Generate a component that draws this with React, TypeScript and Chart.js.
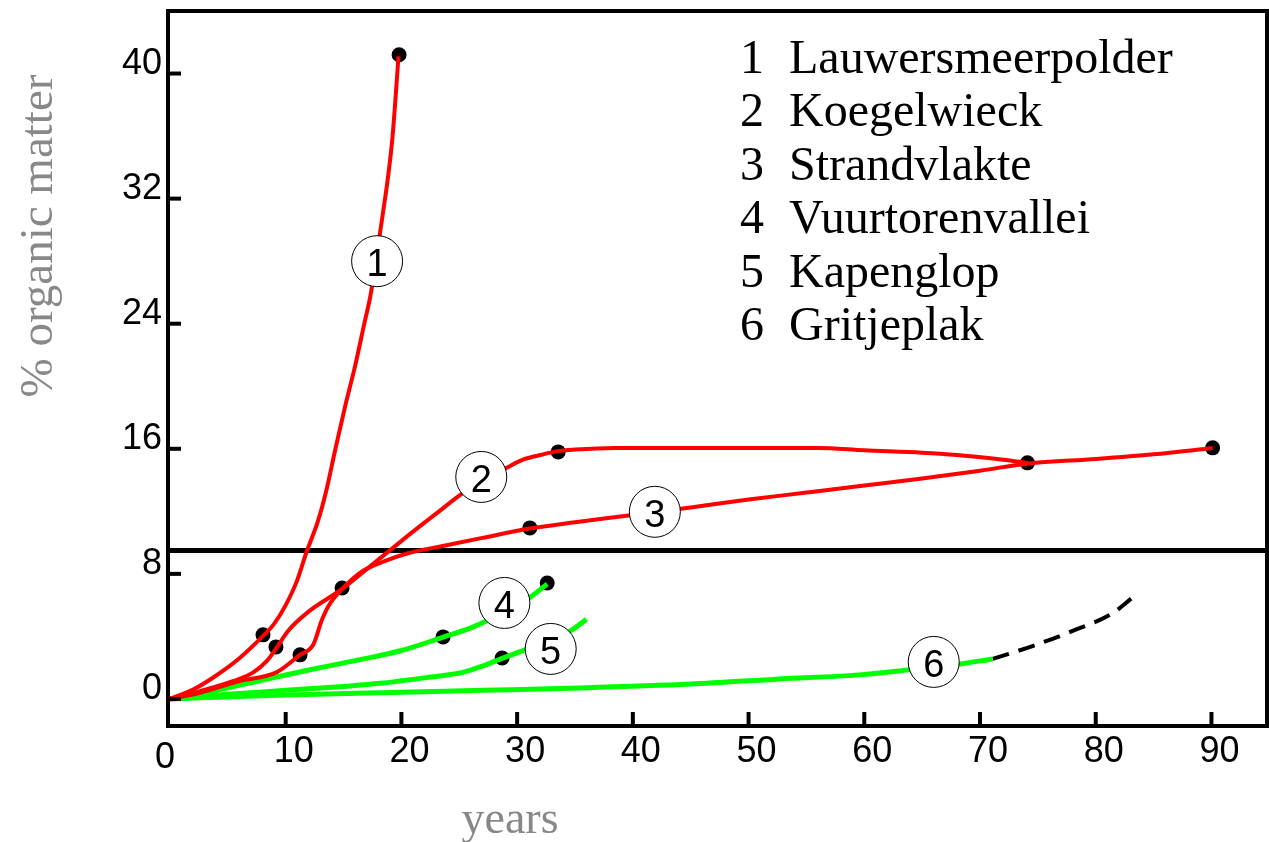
import { useEffect, useRef } from "react";
import { Chart, registerables } from "chart.js";

Chart.register(...registerables);

// ---- axis ranges & ticks ----
const X_MIN = -0.17;
const X_MAX = 94.8;
const Y_MIN = -1.73;
const Y_MAX = 44;
const xTicks = [0, 10, 20, 30, 40, 50, 60, 70, 80, 90];
const yTicks = [0, 8, 16, 24, 32, 40];
const divider = 9.5;

// ---- legend ----
const siteNumbers = ["1", "2", "3", "4", "5", "6"];
const siteNames = [
  "Lauwersmeerpolder",
  "Koegelwieck",
  "Strandvlakte",
  "Vuurtorenvallei",
  "Kapenglop",
  "Gritjeplak",
];

// ---- series (years, % organic matter) ----
const c1X = [0, 2, 4, 6, 8, 9, 10, 11, 11.8, 12.8, 13.5, 14.3, 15.1, 16, 16.85, 17.3, 18.15, 19.2, 19.75];
const c1Y = [0, 0.6, 1.5, 2.6, 4.0, 4.8, 6.0, 7.6, 9.4, 11.4, 13.3, 16, 18.6, 21.3, 24.2, 25.7, 29.8, 35.7, 41.1];

const c2X = [0, 2.6, 5.5, 7.2, 8.4, 9.2, 10.2, 12, 14, 15, 17, 19, 21, 23, 25, 27, 29, 30.5, 32, 33.5, 35, 38.5, 45, 56, 60, 65, 68, 72, 74.1];
const c2Y = [0, 0.5, 1.15, 1.7, 2.45, 3.25, 4.35, 5.6, 6.6, 7.1, 8.3, 9.5, 10.7, 11.85, 13.0, 14.0, 14.75, 15.3, 15.6, 15.85, 15.95, 16.05, 16.05, 16.05, 15.9, 15.75, 15.6, 15.3, 15.1];

const c3X = [0, 2.6, 6, 9.2, 11.2, 12.4, 13.1, 13.7, 14.9, 16.7, 18.5, 20.5, 24, 27, 31.1, 35, 39.8, 45, 50, 55, 60, 65, 70, 74.1, 80, 85, 90.1];
const c3Y = [0, 0.4, 1.15, 1.7, 2.8, 3.5, 5.0, 5.95, 7.05, 8.2, 8.8, 9.3, 9.85, 10.3, 10.9, 11.3, 11.75, 12.25, 12.75, 13.2, 13.65, 14.1, 14.6, 15.05, 15.35, 15.65, 16.05];

const c4X = [0, 4, 8.4, 12, 16, 20, 23.6, 26, 27.4, 29, 31.1, 32.6];
const c4Y = [0, 0.55, 1.28, 1.85, 2.45, 3.1, 3.95, 4.55, 5.0, 5.6, 6.5, 7.35];

const c5X = [0, 5, 10, 15, 18.2, 22.5, 25.3, 27, 28.7, 30.9, 34.6, 36];
const c5Y = [0, 0.3, 0.55, 0.8, 1.0, 1.4, 1.7, 2.1, 2.6, 3.2, 4.35, 5.1];

const c6X = [0, 10, 18.2, 27, 35.4, 45, 52.7, 59.6, 63.8, 68.3, 71.1];
const c6Y = [0, 0.25, 0.4, 0.55, 0.7, 0.95, 1.28, 1.54, 1.86, 2.24, 2.56];

const c6ExtX = [71.1, 74.6, 78, 81.5, 83.2];
const c6ExtY = [2.56, 3.4, 4.35, 5.5, 6.5];

// measured samples (black dots)
const dotX = [8.04, 19.8, 9.16, 11.24, 14.87, 33.55, 31.1, 74.1, 90.1, 23.6, 32.6, 28.7];
const dotY = [4.1, 41.2, 3.33, 2.82, 7.1, 15.8, 10.94, 15.1, 16.06, 3.97, 7.42, 2.62];

// circled curve labels
const markX = [17.9, 26.9, 41.9, 28.9, 32.9, 66.0];
const markY = [28.0, 14.2, 11.97, 6.14, 3.2, 2.37];

const RED = "#ff0000";
const GREEN = "#00ff00";
const GRAY = "#888888";

const pts = (xs: number[], ys: number[]) => xs.map((x, i) => ({ x, y: ys[i] }));

const curve = (xs: number[], ys: number[], color: string, width: number, extra: any = {}) => ({
  data: pts(xs, ys),
  showLine: true,
  borderColor: color,
  borderWidth: width,
  pointRadius: 0,
  cubicInterpolationMode: "monotone",
  order: 1,
  ...extra,
});

const decorPlugin = {
  id: "decor",
  afterDatasetsDraw(chart: any) {
    const ctx = chart.ctx;
    const xs = chart.scales.x;
    const ys = chart.scales.y;
    ctx.save();
    for (let i = 0; i < markX.length; i++) {
      const cx = xs.getPixelForValue(markX[i]);
      const cy = ys.getPixelForValue(markY[i]);
      ctx.beginPath();
      ctx.arc(cx, cy, 25.5, 0, Math.PI * 2);
      ctx.fillStyle = "#ffffff";
      ctx.fill();
      ctx.lineWidth = 1;
      ctx.strokeStyle = "#000000";
      ctx.stroke();
      ctx.fillStyle = "#000000";
      ctx.font = "38px 'Liberation Sans', Arial, sans-serif";
      ctx.textAlign = "center";
      ctx.textBaseline = "alphabetic";
      ctx.fillText(siteNumbers[i], cx, cy + 15);
    }
    ctx.restore();
  },
  afterDraw(chart: any) {
    const ctx = chart.ctx;
    const a = chart.chartArea;
    const xs = chart.scales.x;
    const ys = chart.scales.y;
    ctx.save();
    // frame
    ctx.strokeStyle = "#000000";
    ctx.lineWidth = 4;
    ctx.lineCap = "square";
    ctx.strokeRect(a.left, a.top, a.right - a.left, a.bottom - a.top);
    ctx.lineCap = "butt";
    // y ticks (inward)
    for (const v of yTicks) {
      const py = ys.getPixelForValue(v);
      ctx.beginPath();
      ctx.moveTo(a.left, py);
      ctx.lineTo(a.left + 13, py);
      ctx.stroke();
    }
    // x ticks (inward)
    for (const v of xTicks) {
      if (v === 0) continue;
      const px = xs.getPixelForValue(v);
      ctx.beginPath();
      ctx.moveTo(px, a.bottom);
      ctx.lineTo(px, a.bottom - 14);
      ctx.stroke();
    }
    // tick labels
    ctx.fillStyle = "#000000";
    ctx.font = "36px 'Liberation Sans', Arial, sans-serif";
    ctx.textBaseline = "alphabetic";
    ctx.textAlign = "right";
    for (const v of yTicks) {
      const py = ys.getPixelForValue(v);
      ctx.fillText(String(v), a.left - 6, py);
    }
    ctx.textAlign = "center";
    for (const v of xTicks) {
      const px = xs.getPixelForValue(v);
      if (v === 0) ctx.fillText(String(v), px - 5, a.bottom + 42);
      else ctx.fillText(String(v), px + 8, a.bottom + 36);
    }
    // axis titles
    ctx.fillStyle = GRAY;
    ctx.font = "47px 'Liberation Serif', 'Times New Roman', serif";
    ctx.save();
    ctx.translate(52, 236);
    ctx.rotate(-Math.PI / 2);
    ctx.textAlign = "center";
    ctx.fillText("% organic matter", 0, 0);
    ctx.restore();
    ctx.font = "46px 'Liberation Serif', 'Times New Roman', serif";
    ctx.textAlign = "center";
    ctx.fillText("years", 510, 833);
    // legend list
    ctx.fillStyle = "#000000";
    ctx.font = "48px 'Liberation Serif', 'Times New Roman', serif";
    ctx.textAlign = "left";
    for (let i = 0; i < siteNames.length; i++) {
      const by = 73 + i * 53.4;
      ctx.fillText(siteNumbers[i], 740, by);
      ctx.fillText(siteNames[i], 789, by);
    }
    ctx.restore();
  },
};

export default function App() {
  const ref = useRef<HTMLCanvasElement | null>(null);
  useEffect(() => {
    if (!ref.current) return;
    const chart = new Chart(ref.current, {
      type: "scatter",
      data: {
        datasets: [
          {
            data: pts([X_MIN, X_MAX], [divider, divider]),
            showLine: true,
            borderColor: "#000000",
            borderWidth: 5,
            pointRadius: 0,
            order: 5,
          } as any,
          {
            data: pts(dotX, dotY),
            showLine: false,
            pointRadius: 7.5,
            pointBackgroundColor: "#000000",
            pointBorderWidth: 0,
            order: 10,
          } as any,
          curve(c1X, c1Y, RED, 4),
          curve(c2X, c2Y, RED, 4),
          curve(c3X, c3Y, RED, 4),
          curve(c4X, c4Y, GREEN, 5),
          curve(c5X, c5Y, GREEN, 5),
          curve(c6X, c6Y, GREEN, 5),
          curve(c6ExtX, c6ExtY, "#000000", 4, { borderDash: [17, 10], order: 2 }),
        ],
      },
      options: {
        responsive: false,
        animation: false,
        devicePixelRatio: 1,
        layout: { autoPadding: false, padding: { left: 0, top: 11, right: 2, bottom: 0 } },
        plugins: { legend: { display: false }, tooltip: { enabled: false } },
        scales: {
          x: {
            type: "linear",
            min: X_MIN,
            max: X_MAX,
            grid: { display: false },
            border: { display: false },
            ticks: { display: false },
            afterBuildTicks: (s: any) => {
              s.ticks = xTicks.map((v) => ({ value: v }));
            },
            afterFit: (s: any) => {
              s.height = 116;
            },
          },
          y: {
            type: "linear",
            min: Y_MIN,
            max: Y_MAX,
            grid: { display: false },
            border: { display: false },
            ticks: { display: false },
            afterBuildTicks: (s: any) => {
              s.ticks = yTicks.map((v) => ({ value: v }));
            },
            afterFit: (s: any) => {
              s.width = 168;
            },
          },
        },
      } as any,
      plugins: [decorPlugin],
    });
    return () => chart.destroy();
  }, []);
  return (
    <div style={{ position: "fixed", left: 0, top: 0, width: 1269, height: 842, background: "#fff" }}>
      <canvas ref={ref} width={1269} height={842} style={{ width: 1269, height: 842, display: "block" }} />
    </div>
  );
}
